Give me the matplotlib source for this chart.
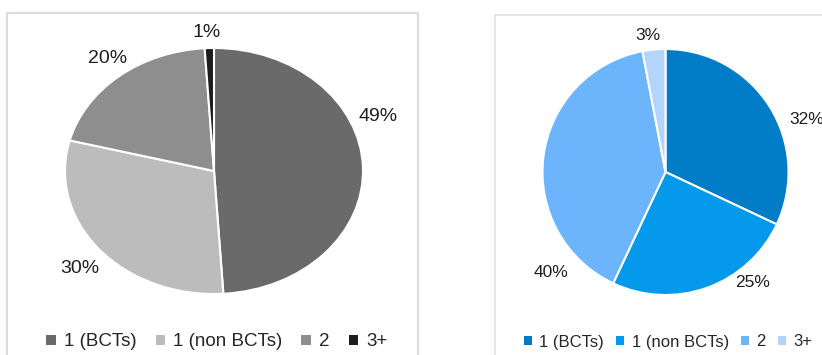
import numpy as np
import matplotlib
matplotlib.use("Agg")
import matplotlib.pyplot as plt
from matplotlib.patches import Rectangle

plt.rcParams["font.family"] = ["Liberation Sans", "DejaVu Sans"]

categories = ["1 (BCTs)", "1 (non BCTs)", "2", "3+"]
left_values = [49, 30, 20, 1]
right_values = [32, 25, 40, 3]

left_colors = ["#6a6a6a", "#bcbcbc", "#8e8e8e", "#1c1c1c"]
right_colors = ["#017dc8", "#0499ea", "#6cb4fc", "#b3d5fc"]

# where each percentage label sits, as (angle in degrees, radius)
left_label_pos = [(22, 1.19), (-138.5, 1.20), (128, 1.16), (92.4, 1.13)]
right_label_pos = [(20.3, 1.22), (-51.8, 1.14), (-138.6, 1.24), (97.3, 1.12)]

W, H = 822, 355
fig = plt.figure(figsize=(W / 100, H / 100), dpi=100)


def px_axes(x0, y0, x1, y1):
    """Axes from pixel box (top-left origin)."""
    return fig.add_axes([x0 / W, 1 - y1 / H, (x1 - x0) / W, (y1 - y0) / H])


def draw_pie(ax, values, colors, label_pos, fontsize):
    wedges, _ = ax.pie(values, colors=colors, startangle=90, counterclock=False,
                       wedgeprops=dict(edgecolor="white", linewidth=1.5))
    ax.set_aspect("auto")
    ax.set_xlim(-1, 1)
    ax.set_ylim(-1, 1)
    total = sum(values)
    for v, (ang, r) in zip(values, label_pos):
        a = np.radians(ang)
        ax.text(r * np.cos(a), r * np.sin(a), f"{round(100 * v / total)}%",
                ha="center", va="center", fontsize=fontsize, color="#1e1e1e",
                clip_on=False)
    return wedges


# frames around the two panels
fig.add_artist(Rectangle((7 / W, -0.05), (411) / W, 1.05 - 13 / H,
                         transform=fig.transFigure, fill=False,
                         edgecolor="#dcdcdc", linewidth=1.5))
fig.add_artist(Rectangle((495 / W, -0.05), 0.5, 1.05 - 15.5 / H,
                         transform=fig.transFigure, fill=False,
                         edgecolor="#e2e2e2", linewidth=1.2))

ax1 = px_axes(65, 48, 363, 294)
w1 = draw_pie(ax1, left_values, left_colors, left_label_pos, 14)

ax2 = px_axes(542.5, 49, 788.5, 295)
w2 = draw_pie(ax2, right_values, right_colors, right_label_pos, 12.5)

common = dict(ncol=4, frameon=False, handlelength=0.5, handleheight=0.5,
              handletextpad=0.45, loc="center")
leg1 = fig.legend(w1, categories, bbox_to_anchor=(217 / W, 1 - 342 / H),
                  fontsize=13.5, columnspacing=1.0, **common)
leg2 = fig.legend(w2, categories, bbox_to_anchor=(668 / W, 1 - 342 / H),
                  fontsize=12, columnspacing=0.7, **common)
for leg in (leg1, leg2):
    for t in leg.get_texts():
        t.set_color("#262626")
    for h in leg.legend_handles:
        h.set_edgecolor("none")

fig.savefig("out.png", dpi=100)
